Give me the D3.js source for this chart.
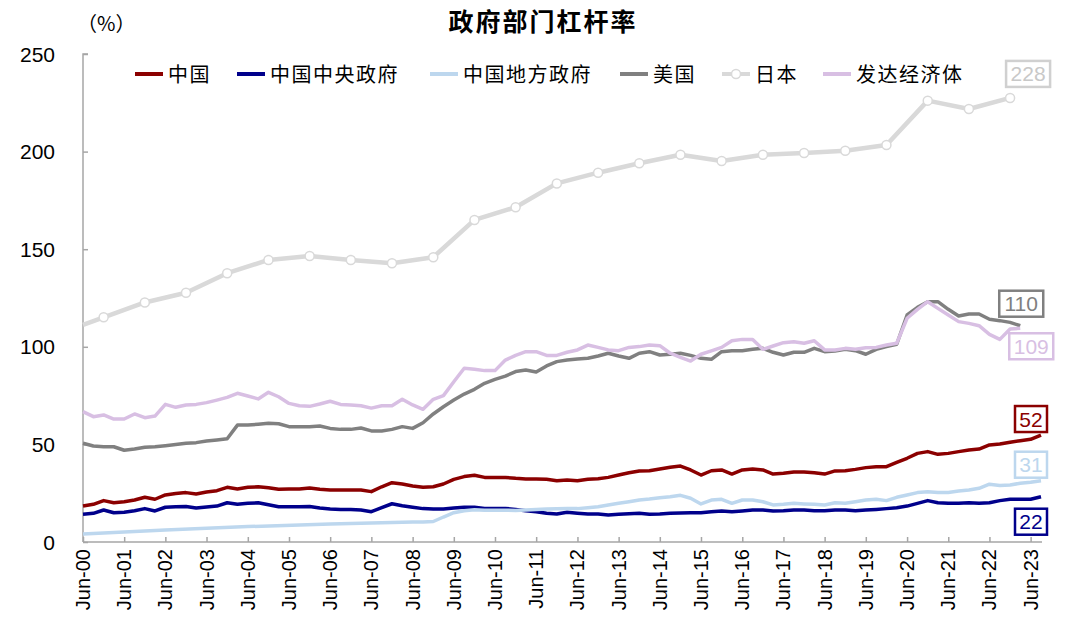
<!DOCTYPE html>
<meta charset="utf-8">
<script src="https://d3js.org/d3.v7.min.js"></script>
<style>
  body { margin: 0; background: #fff; }
  text { font-family: "Liberation Sans", Arial, "Noto Sans CJK SC", sans-serif; }
</style>
<div id="chart"></div>
<script>
// quarterly series, first value = Jun-00
var chinaTotal = [18.4,19.3,21.2,20.1,20.6,21.5,22.9,21.9,24.1,24.9,25.3,24.6,25.6,26.3,28.0,27.2,28.0,28.3,27.8,27.0,
  27.2,27.2,27.7,27.0,26.6,26.6,26.6,26.6,25.8,28.3,30.4,29.7,28.7,28.0,28.3,29.7,32.1,33.5,34.2,33.1,
  33.1,33.1,32.6,32.3,32.3,32.1,31.4,31.8,31.4,32.1,32.4,33.1,34.3,35.5,36.4,36.5,37.4,38.3,38.9,36.9,
  34.3,36.5,36.9,34.8,36.9,37.4,36.9,34.8,35.2,35.9,35.9,35.5,34.8,36.4,36.5,37.2,38.1,38.6,38.6,40.8,
  42.9,45.4,46.3,44.9,45.4,46.3,47.1,47.6,49.7,50.2,51.1,51.9,52.6,54.8];
var chinaCentral = [14.2,14.7,16.4,15.0,15.2,16.0,17.1,15.9,17.8,18.1,18.2,17.4,17.9,18.4,20.1,19.3,19.8,20.1,19.1,18.1,
  18.1,18.1,18.2,17.4,16.9,16.7,16.7,16.4,15.5,17.6,19.6,18.6,17.8,17.1,16.9,16.9,17.4,17.8,17.8,17.2,
  17.2,17.2,16.7,16.0,15.5,14.7,14.3,15.2,14.7,14.3,14.3,13.8,14.2,14.5,14.7,14.2,14.3,14.7,14.9,15.0,
  15.0,15.5,15.9,15.5,15.9,16.4,16.4,15.9,16.0,16.4,16.4,16.0,16.0,16.4,16.4,16.0,16.4,16.7,17.1,17.6,
  18.4,19.8,21.2,20.1,19.8,19.8,20.1,19.8,20.1,21.2,21.9,21.9,21.9,23.2];
var chinaLocal = [4.1,null,null,null,null,null,null,null,6.1,null,null,null,null,null,null,null,7.9,null,null,null,
  null,null,null,null,9.2,null,null,null,null,null,null,null,10.2,10.3,10.5,12.8,15.0,16.0,16.5,16.3,
  16.3,16.3,16.2,16.4,16.6,16.9,17.0,17.1,17.1,17.6,18.1,19.0,19.8,20.6,21.5,22.0,22.7,23.2,23.9,22.4,
  19.5,21.5,21.9,19.8,21.5,21.5,20.6,19.0,19.3,19.8,19.5,19.3,19.0,20.1,19.8,20.6,21.5,21.9,21.2,22.9,
  24.1,25.3,25.8,25.3,25.4,26.1,26.6,27.5,29.6,29.0,29.2,30.1,30.6,31.4];
var usGov = [50.6,49.2,48.8,48.8,47.0,47.6,48.5,48.8,49.3,49.9,50.6,50.9,51.7,52.3,52.9,59.9,59.9,60.3,60.8,60.6,
  59.1,59.0,59.1,59.4,58.2,57.7,57.7,58.4,56.9,56.9,57.7,59.1,58.2,61.1,65.6,69.3,72.7,75.8,78.2,81.3,
  83.3,85.0,87.3,88.1,87.1,90.2,92.4,93.2,93.8,94.1,95.3,96.7,95.3,94.1,96.7,97.5,95.8,96.2,96.7,95.6,
  94.1,93.6,97.5,98.0,98.0,98.7,99.2,97.2,95.8,97.2,97.2,99.2,97.5,97.9,98.7,98.0,96.2,98.7,100.1,101.3,
  116.3,120.2,123.1,123.1,119.2,115.8,116.8,116.8,114.1,113.4,112.5,110.8];
var advanced = [66.8,64.2,65.1,63.0,63.0,65.6,63.7,64.5,70.5,69.0,70.2,70.5,71.4,72.7,74.1,76.2,74.8,73.3,76.7,74.4,
  71.0,69.8,69.5,70.7,72.1,70.5,70.2,69.8,68.6,69.8,69.8,73.1,70.2,68.0,73.1,75.0,82.1,89.0,88.5,87.8,
  87.8,93.2,95.6,97.5,97.5,95.6,95.6,97.2,98.4,100.9,99.7,98.4,98.0,99.7,100.1,100.9,100.6,96.7,94.6,92.7,
  96.2,97.9,99.7,103.1,103.8,103.8,98.7,100.4,102.1,102.6,101.8,103.1,98.4,98.4,99.2,98.7,99.5,99.7,100.9,101.8,
  114.6,119.2,123.1,119.7,116.3,112.9,112.0,110.8,106.4,103.8,109.1,109.5];

// Japan: Jun-00, then year-end values
var japanDates = ["2000-06","2000-12","2001-12","2002-12","2003-12","2004-12","2005-12","2006-12","2007-12","2008-12",
  "2009-12","2010-12","2011-12","2012-12","2013-12","2014-12","2015-12","2016-12","2017-12","2018-12",
  "2019-12","2020-12","2021-12","2022-12"];
var japan = [111.2,115.1,122.7,127.7,137.7,144.5,146.5,144.5,142.8,145.9,165.0,171.5,183.7,189.2,194.0,198.4,
  195.2,198.4,199.3,200.4,203.4,226.1,221.8,227.5];

var seriesNames = ["中国", "中国中央政府", "中国地方政府", "美国", "日本", "发达经济体"];
var seriesColors = ["#8b0000", "#00008b", "#bdd7ee", "#808080", "#d9d9d9", "#d8bfe3"];
var endLabels = ["52", "22", "31", "110", "228", "109"];
var xTickLabels = ["Jun-00","Jun-01","Jun-02","Jun-03","Jun-04","Jun-05","Jun-06","Jun-07","Jun-08","Jun-09",
  "Jun-10","Jun-11","Jun-12","Jun-13","Jun-14","Jun-15","Jun-16","Jun-17","Jun-18","Jun-19",
  "Jun-20","Jun-21","Jun-22","Jun-23"];
var yTicks = [0, 50, 100, 150, 200, 250];

var W = 1080, H = 637;
var svg = d3.select("#chart").append("svg").attr("width", W).attr("height", H);

var parseMonth = d3.timeParse("%Y-%m");
function quarterDate(i) { return new Date(2000, 5 + 3 * i, 1); }

var x = d3.scaleTime()
  .domain([new Date(2000, 5, 1), new Date(2023, 8, 1)])
  .range([83, 1041]);
var y = d3.scaleLinear().domain([0, 250]).range([542, 54]);

// title
svg.append("text").attr("x", 543).attr("y", 31).attr("text-anchor", "middle")
  .style("font-size", "25px").style("font-weight", "bold").style("letter-spacing", "2px")
  .text("政府部门杠杆率");
svg.append("text").attr("x", 77).attr("y", 31)
  .style("font-family", "'Noto Sans CJK SC', sans-serif")
  .style("font-size", "20px").text("（%）");

// axes
var axisColor = "#a6a6a6";
var yAxis = svg.append("g").attr("transform", "translate(83,0)")
  .call(d3.axisRight(y).tickValues(yTicks).tickSize(5).tickFormat(""));
var xTickDates = xTickLabels.map(function(d, i) { return new Date(2000 + i, 5, 1); });
var xAxis = svg.append("g").attr("transform", "translate(0,542)")
  .call(d3.axisTop(x).tickValues(xTickDates).tickSize(5).tickFormat(""));
[yAxis, xAxis].forEach(function(g) {
  g.select(".domain").attr("stroke", axisColor).attr("stroke-width", 1.5);
  g.selectAll(".tick line").attr("stroke", axisColor).attr("stroke-width", 1.5);
});
// plain end of x axis without the outer tick
xAxis.select(".domain").attr("d", "M83,0H1042");
yAxis.select(".domain").attr("d", "M0,542V54H5");

svg.selectAll(".ylab").data(yTicks).enter().append("text")
  .attr("x", 55).attr("y", function(d) { return y(d) + 7.5; })
  .attr("text-anchor", "end").style("font-size", "21px").text(function(d) { return d; });

svg.selectAll(".xlab").data(xTickLabels).enter().append("text")
  .attr("transform", function(d, i) { return "translate(" + (x(xTickDates[i]) + 7) + ",549) rotate(-90)"; })
  .attr("text-anchor", "end").style("font-size", "20px").text(function(d) { return d; });

// lines
function pts(arr) {
  return arr.map(function(v, i) { return [quarterDate(i), v]; }).filter(function(p) { return p[1] != null; });
}
var japanPts = japan.map(function(v, i) { return [parseMonth(japanDates[i]), v]; });
var line = d3.line().x(function(p) { return x(p[0]); }).y(function(p) { return y(p[1]); });

var allSeries = [pts(chinaTotal), pts(chinaCentral), pts(chinaLocal), pts(usGov), japanPts, pts(advanced)];
var order = [4, 0, 1, 2, 3, 5];
order.forEach(function(s) {
  svg.append("path").datum(allSeries[s])
    .attr("fill", "none").attr("stroke", seriesColors[s])
    .attr("stroke-width", s === 4 ? 4.5 : 3.5)
    .attr("stroke-linejoin", "round")
    .attr("d", line);
});
svg.selectAll(".jp").data(japanPts.slice(1)).enter().append("circle")
  .attr("cx", function(p) { return x(p[0]); }).attr("cy", function(p) { return y(p[1]); })
  .attr("r", 4.5).attr("fill", "#fff").attr("stroke", "#d9d9d9").attr("stroke-width", 1.5);

// legend
var legendX = [135, 237, 430, 620, 722, 823];
var lg = svg.selectAll(".lg").data(seriesNames).enter().append("g")
  .attr("transform", function(d, i) { return "translate(" + legendX[i] + ",74)"; });
lg.append("line").attr("x1", 0).attr("x2", 28).attr("y1", 0).attr("y2", 0)
  .attr("stroke", function(d, i) { return seriesColors[i]; }).attr("stroke-width", 4);
lg.filter(function(d, i) { return i === 4; }).append("circle")
  .attr("cx", 14).attr("cy", 0).attr("r", 4.5).attr("fill", "#fff")
  .attr("stroke", "#d9d9d9").attr("stroke-width", 1.5);
lg.append("text").attr("x", 33).attr("y", 7.5).style("font-size", "20px").style("letter-spacing", "1.5px")
  .text(function(d) { return d; });

// end-value boxes, offset from each series' last point
var labelOffsets = [[-10, -16], [-10, 25], [-10, -16], [1, -22], [18, -24], [11, 18]];
endLabels.forEach(function(t, s) {
  var last = allSeries[s][allSeries[s].length - 1];
  var cx = x(last[0]) + labelOffsets[s][0], cy = y(last[1]) + labelOffsets[s][1];
  var w = t.length === 3 ? 44 : 32, h = 26;
  var col = s === 4 ? "#d0d0d0" : seriesColors[s];
  svg.append("rect").attr("x", cx - w / 2).attr("y", cy - h / 2).attr("width", w).attr("height", h)
    .attr("fill", "#fff").attr("stroke", col).attr("stroke-width", 2.5);
  svg.append("text").attr("x", cx).attr("y", cy + 7.5).attr("text-anchor", "middle")
    .style("font-size", "21px").attr("fill", s === 4 ? "#c8c8c8" : col).text(t);
});
</script>
